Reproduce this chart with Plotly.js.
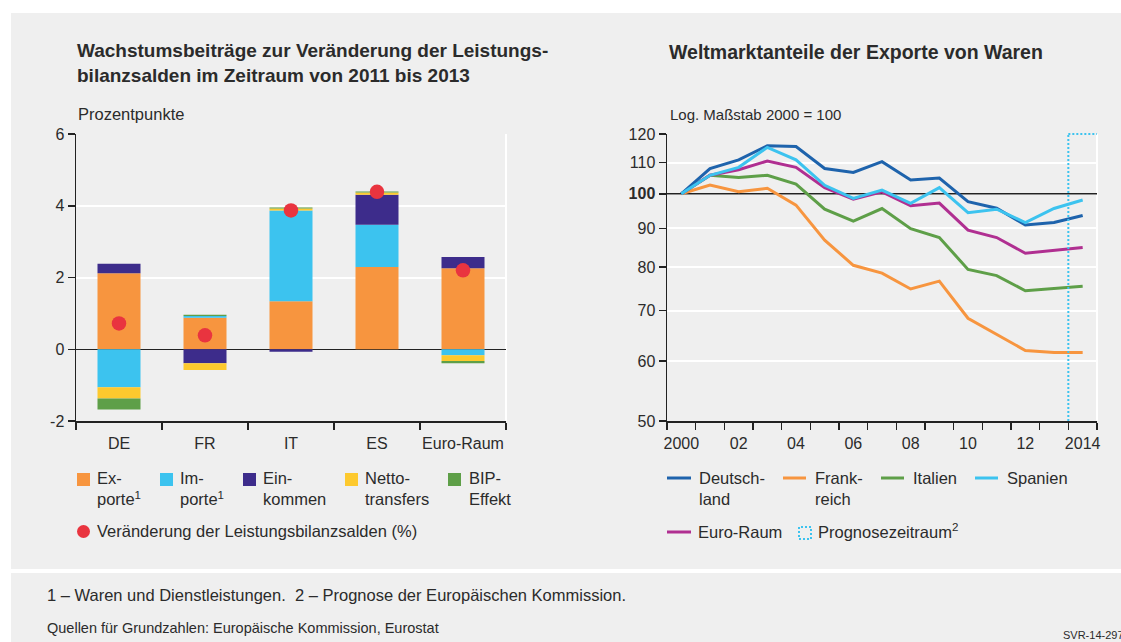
<!DOCTYPE html>
<html>
<head>
<meta charset="utf-8">
<script src="https://cdn.plot.ly/plotly-3.0.1.min.js"></script>
<style>html,body{margin:0;padding:0;background:#fff;}#chart{width:1121px;height:642px;}</style>
</head>
<body>
<div id="chart"></div>
<script>
// ---------- Data: left chart (Prozentpunkte) ----------
const categories = ['DE', 'FR', 'IT', 'ES', 'Euro-Raum'];
const exporte        = [2.12, 0.88, 1.34, 2.29, 2.26];
const importe        = [-1.06, 0.05, 2.53, 1.18, -0.17];
const einkommen      = [0.26, -0.39, -0.07, 0.84, 0.31];
const nettotransfers = [-0.31, -0.19, 0.05, 0.06, -0.16];
const bipEffekt      = [-0.31, 0.03, 0.03, 0.03, -0.06];
const leistungsbilanz = [0.72, 0.39, 3.87, 4.39, 2.20];
const leftTickVals = [-2, 0, 2, 4, 6];
const leftTickText = ['-2', '0', '2', '4', '6'];

// ---------- Data: right chart (Log. Maßstab 2000 = 100) ----------
const years = [2000, 2001, 2002, 2003, 2004, 2005, 2006, 2007, 2008, 2009, 2010, 2011, 2012, 2013, 2014];
const yearTickVals = [2000, 2002, 2004, 2006, 2008, 2010, 2012, 2014];
const yearTickText = ['2000', '02', '04', '06', '08', '10', '12', '2014'];
const deutschland = [100, 108.0, 110.9, 115.8, 115.5, 108.0, 106.7, 110.3, 104.3, 104.9, 97.6, 95.7, 90.9, 91.6, 93.6];
const frankreich  = [100, 102.7, 100.6, 101.7, 96.6, 86.8, 80.4, 78.5, 74.8, 76.6, 68.4, 65.2, 62.0, 61.6, 61.6];
const italien     = [100, 105.8, 105.1, 105.8, 103.0, 95.4, 92.0, 95.6, 89.9, 87.5, 79.4, 77.9, 74.4, 74.9, 75.4];
const spanien     = [100, 105.8, 108.4, 115.2, 110.9, 102.6, 98.6, 101.1, 97.1, 101.9, 94.4, 95.4, 91.6, 95.6, 98.1];
const euroRaum    = [100, 105.8, 107.6, 110.5, 108.4, 101.9, 98.4, 100.6, 96.4, 97.2, 89.5, 87.5, 83.4, 84.1, 84.9];
const indexBase = 100;
const prognoseStart = 2013.5;
const rightTickVals = [50, 60, 70, 80, 90, 100, 110, 120];
const rightTickText = ['50', '60', '70', '80', '90', '<b>100</b>', '110', '120'];

// ---------- Styling ----------
const W = 1121, H = 642;
const px = x => x / W;
const py = y => 1 - y / H;
const FONT = 'Liberation Sans, Arial, sans-serif';
const TXT = '#2b2b2b';
const BG = '#efefef';
const C = {
  exp: '#f7953f', imp: '#3cc3ef', ein: '#3d2c8b', net: '#fdc92e', bip: '#5e9f48', dot: '#e9343f',
  de: '#1e63ac', fr: '#f7953f', it: '#5e9f48', es: '#3cc3ef', eu: '#b02f91'
};
const xIdx = categories.map((_, i) => i);

function bar(name, y, color) {
  return { type: 'bar', name, x: xIdx, y, marker: { color, line: { width: 0 } }, xaxis: 'x', yaxis: 'y', showlegend: false, hoverinfo: 'y' };
}
function line(name, y, color) {
  return { type: 'scatter', mode: 'lines', name, x: years, y, line: { color, width: 3 }, xaxis: 'x2', yaxis: 'y2', showlegend: false };
}

const traces = [
  bar('Exporte', exporte, C.exp),
  bar('Importe', importe, C.imp),
  bar('Einkommen', einkommen, C.ein),
  bar('Nettotransfers', nettotransfers, C.net),
  bar('BIP-Effekt', bipEffekt, C.bip),
  { type: 'scatter', mode: 'markers', name: 'Veränderung der Leistungsbilanzsalden (%)', x: xIdx, y: leistungsbilanz,
    marker: { color: C.dot, size: 14.5 }, xaxis: 'x', yaxis: 'y', showlegend: false },
  { type: 'scatter', mode: 'lines', x: [years[0] - 0.5, years[years.length - 1] + 0.5], y: [indexBase, indexBase],
    line: { color: '#222', width: 1.5 }, xaxis: 'x2', yaxis: 'y2', showlegend: false, hoverinfo: 'skip' },
  line('Frankreich', frankreich, C.fr),
  line('Italien', italien, C.it),
  line('Euro-Raum', euroRaum, C.eu),
  line('Deutschland', deutschland, C.de),
  line('Spanien', spanien, C.es)
];

const tickFont = { family: FONT, size: 16, color: TXT };
const yDom = [py(421), py(134)];

const layout = {
  width: W, height: H,
  margin: { l: 0, r: 0, t: 0, b: 0 },
  paper_bgcolor: '#ffffff',
  plot_bgcolor: BG,
  barmode: 'relative',
  bargap: 0.5,
  font: { family: FONT, color: TXT },
  xaxis: {
    domain: [px(76), px(506)], anchor: 'y', range: [-0.5, 4.5],
    tickvals: xIdx, ticktext: categories, ticks: 'outside', ticklen: 7, tickcolor: 'rgba(0,0,0,0)',
    tickfont: tickFont, showgrid: false, zeroline: false,
    showline: true, linecolor: '#222', linewidth: 1.5,
    minor: { tickmode: 'linear', tick0: -0.5, dtick: 1, ticks: 'outside', ticklen: 7, tickwidth: 1.5, tickcolor: '#222', showgrid: false },
    fixedrange: true
  },
  yaxis: {
    domain: yDom, anchor: 'x', range: [-2, 6], tickvals: leftTickVals, ticktext: leftTickText,
    ticks: 'outside', ticklen: 7, tickwidth: 1.5, tickcolor: '#222', tickfont: tickFont,
    showgrid: true, gridcolor: '#ffffff', gridwidth: 2,
    zeroline: true, zerolinecolor: '#222', zerolinewidth: 1.5,
    showline: true, linecolor: '#222', linewidth: 1.5, fixedrange: true
  },
  xaxis2: {
    domain: [px(667), px(1097)], anchor: 'y2', range: [1999.5, 2014.5],
    tickvals: yearTickVals, ticktext: yearTickText, ticks: 'outside', ticklen: 7, tickcolor: 'rgba(0,0,0,0)',
    tickfont: tickFont, showgrid: false, zeroline: false,
    showline: true, linecolor: '#222', linewidth: 1.5,
    minor: { tickmode: 'linear', tick0: 1999.5, dtick: 1, ticks: 'outside', ticklen: 7, tickwidth: 1.5, tickcolor: '#222', showgrid: false },
    fixedrange: true
  },
  yaxis2: {
    domain: yDom, anchor: 'x2', type: 'log', range: [Math.log10(50), Math.log10(120)],
    tickvals: rightTickVals, ticktext: rightTickText,
    ticks: 'outside', ticklen: 7, tickwidth: 1.5, tickcolor: '#222', tickfont: tickFont,
    showgrid: true, gridcolor: '#ffffff', gridwidth: 2,
    zeroline: false, showline: true, linecolor: '#222', linewidth: 1.5, fixedrange: true
  },
  shapes: [
    { type: 'rect', xref: 'paper', yref: 'paper', x0: px(11), x1: 1, y0: py(569), y1: py(13), fillcolor: BG, line: { width: 0 }, layer: 'below' },
    { type: 'rect', xref: 'paper', yref: 'paper', x0: px(11), x1: 1, y0: 0, y1: py(573), fillcolor: BG, line: { width: 0 }, layer: 'below' },
    // right edges of plot frames (white)
    { type: 'line', xref: 'x domain', yref: 'y domain', x0: 1, x1: 1, y0: 0, y1: 1, line: { color: '#fff', width: 2 }, layer: 'below' },
    { type: 'line', xref: 'x2 domain', yref: 'y2 domain', x0: 1, x1: 1, y0: 0, y1: 1, line: { color: '#fff', width: 2 }, layer: 'below' },
    // Prognosezeitraum box
    { type: 'line', xref: 'x2', yref: 'y2 domain', x0: prognoseStart, x1: prognoseStart, y0: 0, y1: 1, line: { color: C.es, width: 2, dash: '2px,2px' } },
    { type: 'line', xref: 'x2', yref: 'y2 domain', x0: prognoseStart, x1: 2014.5, y0: 1, y1: 1, line: { color: C.es, width: 2, dash: '2px,2px' } },
    // legend symbols left
    { type: 'rect', xref: 'paper', yref: 'paper', x0: px(77), x1: px(90), y0: py(486), y1: py(473), fillcolor: C.exp, line: { width: 0 } },
    { type: 'rect', xref: 'paper', yref: 'paper', x0: px(160), x1: px(173), y0: py(486), y1: py(473), fillcolor: C.imp, line: { width: 0 } },
    { type: 'rect', xref: 'paper', yref: 'paper', x0: px(243), x1: px(256), y0: py(486), y1: py(473), fillcolor: C.ein, line: { width: 0 } },
    { type: 'rect', xref: 'paper', yref: 'paper', x0: px(345), x1: px(358), y0: py(486), y1: py(473), fillcolor: C.net, line: { width: 0 } },
    { type: 'rect', xref: 'paper', yref: 'paper', x0: px(448), x1: px(461), y0: py(486), y1: py(473), fillcolor: C.bip, line: { width: 0 } },
    { type: 'circle', xref: 'paper', yref: 'paper', x0: px(77), x1: px(90), y0: py(538), y1: py(525), fillcolor: C.dot, line: { width: 0 } },
    // legend symbols right
    { type: 'line', xref: 'paper', yref: 'paper', x0: px(667), x1: px(691), y0: py(478), y1: py(478), line: { color: C.de, width: 3 } },
    { type: 'line', xref: 'paper', yref: 'paper', x0: px(783), x1: px(806), y0: py(478), y1: py(478), line: { color: C.fr, width: 3 } },
    { type: 'line', xref: 'paper', yref: 'paper', x0: px(881), x1: px(904), y0: py(478), y1: py(478), line: { color: C.it, width: 3 } },
    { type: 'line', xref: 'paper', yref: 'paper', x0: px(975), x1: px(998), y0: py(478), y1: py(478), line: { color: C.es, width: 3 } },
    { type: 'line', xref: 'paper', yref: 'paper', x0: px(667), x1: px(691), y0: py(532), y1: py(532), line: { color: C.eu, width: 3 } },
    { type: 'rect', xref: 'paper', yref: 'paper', x0: px(799), x1: px(811), y0: py(539), y1: py(527), fillcolor: 'rgba(0,0,0,0)', line: { color: C.es, width: 2, dash: '2px,2px' } }
  ],
  annotations: []
};

function txt(x, yTop, text, size, opts) {
  layout.annotations.push(Object.assign({
    xref: 'paper', yref: 'paper', x: px(x), y: py(yTop), xanchor: 'left', yanchor: 'top',
    text, showarrow: false, align: 'left', font: { family: FONT, size, color: TXT }, borderpad: 0
  }, opts || {}));
}

// titles
txt(76, 39, '<b>Wachstumsbeiträge zur Veränderung der Leistungs-<br>bilanzsalden im Zeitraum von 2011 bis 2013</b>', 19);
txt(668, 40, '<b>Weltmarktanteile der Exporte von Waren</b>', 19.5);
txt(77, 104, 'Prozentpunkte', 16.5);
txt(669, 105, 'Log. Maßstab 2000 = 100', 15);

// left legend
txt(96, 468, 'Ex-<br>porte<sup>1</sup>', 16.5);
txt(179, 468, 'Im-<br>porte<sup>1</sup>', 16.5);
txt(262, 468, 'Ein-<br>kommen', 16.5);
txt(364, 468, 'Netto-<br>transfers', 16.5);
txt(468, 468, 'BIP-<br>Effekt', 16.5);
txt(96, 521, 'Veränderung der Leistungsbilanzsalden (%)', 16.5);

// right legend
txt(698, 468, 'Deutsch-<br>land', 16.5);
txt(814, 468, 'Frank-<br>reich', 16.5);
txt(912, 468, 'Italien', 16.5);
txt(1006, 468, 'Spanien', 16.5);
txt(697, 522, 'Euro-Raum', 16.5);
txt(817, 520, 'Prognosezeitraum<sup>2</sup>', 16.5);

// footer
txt(46, 585, '1 – Waren und Dienstleistungen.&nbsp;&nbsp;2 – Prognose der Europäischen Kommission.', 16.5);
txt(46, 619, 'Quellen für Grundzahlen: Europäische Kommission, Eurostat', 14.5);
txt(1062, 628, 'SVR-14-297', 11);

Plotly.newPlot('chart', traces, layout, { staticPlot: true, displayModeBar: false });
</script>
</body>
</html>
